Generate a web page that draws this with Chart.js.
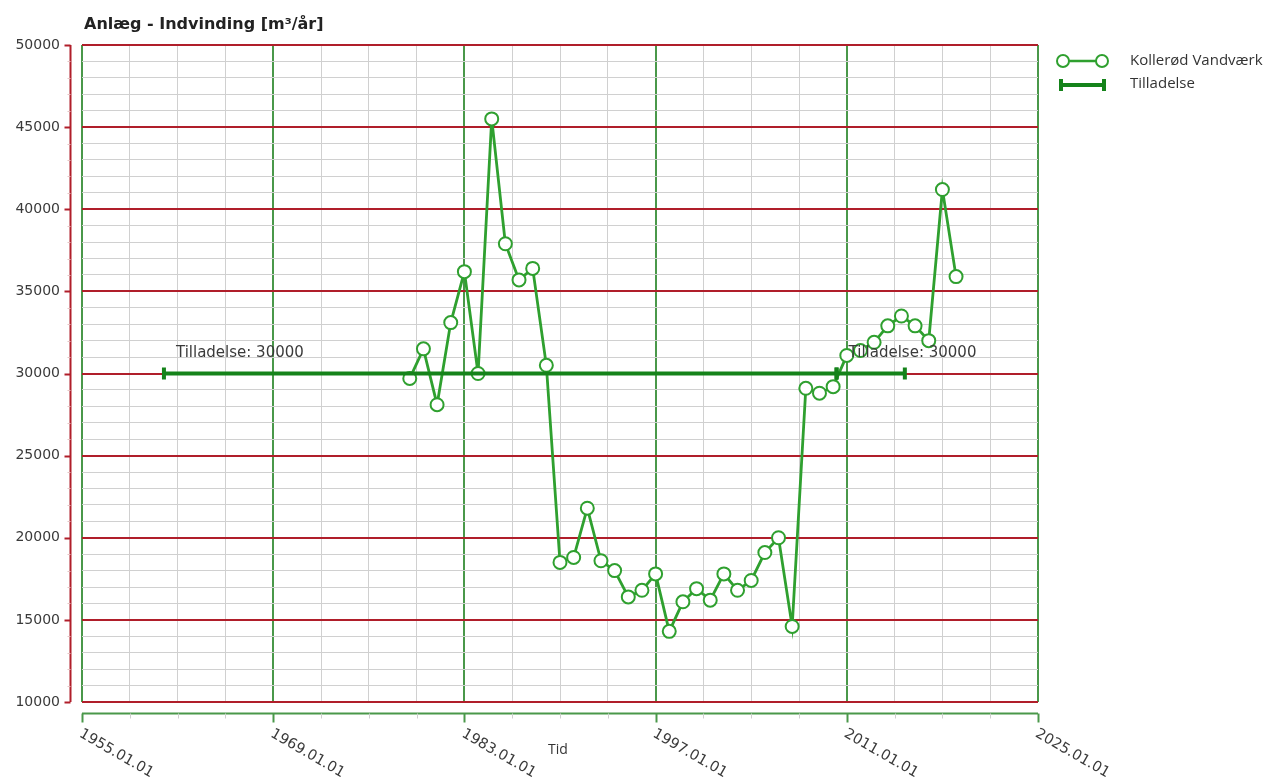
<!DOCTYPE html>
<html><head><meta charset="utf-8">
<script src="https://cdn.jsdelivr.net/npm/chart.js@4.4.1/dist/chart.umd.min.js"></script>
<style>html,body{margin:0;padding:0;background:#fff;}canvas{display:block;}</style>
</head><body>
<canvas id="c" width="1264" height="778"></canvas>
<script>
const chartTitle = 'Anlæg - Indvinding [m³/år]';
const xAxisTitle = 'Tid';
const seriesName = 'Kollerød Vandværk';
const permitName = 'Tilladelse';

const years  = [1979,1980,1981,1982,1983,1984,1985,1986,1987,1988,1989,1990,1991,1992,1993,1994,1995,1996,1997,1998,1999,2000,2001,2002,2003,2004,2005,2006,2007,2008,2009,2010,2011,2012,2013,2014,2015,2016,2017,2018,2019];
const values = [29700,31500,28100,33100,36200,30000,45500,37900,35700,36400,30500,18500,18800,21800,18600,18000,16400,16800,17800,14300,16100,16900,16200,17800,16800,17400,19100,20000,14600,29100,28800,29200,31100,31400,31900,32900,33500,32900,32000,41200,35900];

const permitStart  = [1961, 2010.25];
const permitEnd    = [2010.25, 2015.25];
const permitValues = [30000, 30000];

const xMin = 1955, xMax = 2025, xMajorStep = 14, xMinorStep = 3.5;
const yMin = 10000, yMax = 50000, yMajorStep = 5000, yMinorStep = 1000;
const xTickLabels = ['1955.01.01','1969.01.01','1983.01.01','1997.01.01','2011.01.01','2025.01.01'];

const C_DATA = '#2fa02f';
const C_PERMIT = '#15831a';
const C_RED = '#b01e2a';
const C_GREEN = '#4a984a';
const C_MINOR = '#d0d0d0';
const C_TEXT = '#3a3a3a';

function isMajorX(v){ const k=(v-xMin)/xMajorStep; return Math.abs(k-Math.round(k))<1e-6; }
function isMajorY(v){ return Math.abs(v % yMajorStep) < 1e-6; }

const decor = {
  id: 'decor',
  afterDraw(chart){
    const {ctx, chartArea:a, scales:{x, y}} = chart;
    ctx.save();
    // title
    ctx.font = 'bold 16px "DejaVu Sans"';
    ctx.fillStyle = '#222';
    ctx.textAlign = 'left'; ctx.textBaseline = 'middle';
    ctx.fillText(chartTitle, a.left + 2, 25);

    // y axis line (offset)
    const ax = a.left - 11.5;
    ctx.strokeStyle = C_RED; ctx.lineWidth = 2;
    ctx.beginPath(); ctx.moveTo(ax, y.getPixelForValue(yMax)); ctx.lineTo(ax, y.getPixelForValue(yMin)); ctx.stroke();
    for (let v = yMin; v <= yMax; v += yMinorStep){
      const py = Math.round(y.getPixelForValue(v)) + 0.5;
      const major = isMajorY(v);
      ctx.strokeStyle = major ? C_RED : '#e6c4c4';
      ctx.lineWidth = major ? 2 : 1;
      ctx.beginPath(); ctx.moveTo(ax - (major ? 6 : 3), py); ctx.lineTo(ax, py); ctx.stroke();
    }

    // x axis line (offset)
    const ay = a.bottom + 11.5;
    ctx.strokeStyle = C_GREEN; ctx.lineWidth = 2;
    ctx.beginPath(); ctx.moveTo(x.getPixelForValue(xMin), ay); ctx.lineTo(x.getPixelForValue(xMax), ay); ctx.stroke();
    for (let i = 0; i <= Math.round((xMax - xMin) / xMinorStep); i++){
      const v = xMin + i * xMinorStep;
      const px = Math.round(x.getPixelForValue(v)) + 0.5;
      const major = isMajorX(v);
      ctx.strokeStyle = major ? C_GREEN : '#cfcfcf';
      ctx.lineWidth = major ? 2 : 1;
      ctx.beginPath(); ctx.moveTo(px, ay); ctx.lineTo(px, ay + (major ? 9 : 5)); ctx.stroke();
    }
    // rotated x labels
    ctx.font = '14.5px "DejaVu Sans"';
    ctx.fillStyle = C_TEXT;
    ctx.textAlign = 'left'; ctx.textBaseline = 'top';
    xTickLabels.forEach((lab, i) => {
      const px = x.getPixelForValue(xMin + i * xMajorStep);
      ctx.save();
      ctx.translate(px + 2, ay + 13);
      ctx.rotate(30 * Math.PI / 180);
      ctx.fillText(lab, 0, 0);
      ctx.restore();
    });
    // axis title
    ctx.font = '14px "Open Sans"';
    ctx.textAlign = 'center'; ctx.textBaseline = 'middle';
    ctx.fillStyle = '#333';
    ctx.fillText(xAxisTitle, (a.left + a.right) / 2 - 2, 750);

    // permit labels
    ctx.font = '15px "DejaVu Sans"';
    ctx.textAlign = 'left'; ctx.textBaseline = 'middle';
    ctx.fillStyle = C_TEXT;
    permitStart.forEach((s, i) => {
      ctx.fillText(permitName + ': ' + permitValues[i], x.getPixelForValue(s) + 12, y.getPixelForValue(permitValues[i]) - 20);
    });

    // legend
    const lx = a.right + 20;
    ctx.strokeStyle = C_DATA; ctx.lineWidth = 2.5;
    ctx.beginPath(); ctx.moveTo(lx + 5, 61); ctx.lineTo(lx + 44, 61); ctx.stroke();
    ctx.lineWidth = 2; ctx.fillStyle = '#fff';
    [lx + 5, lx + 44].forEach(cx => { ctx.beginPath(); ctx.arc(cx, 61, 6, 0, Math.PI * 2); ctx.fill(); ctx.stroke(); });
    ctx.strokeStyle = C_PERMIT; ctx.lineWidth = 4;
    ctx.beginPath(); ctx.moveTo(lx + 3, 85); ctx.lineTo(lx + 46, 85); ctx.stroke();
    ctx.beginPath(); ctx.moveTo(lx + 3, 79); ctx.lineTo(lx + 3, 91); ctx.moveTo(lx + 46, 79); ctx.lineTo(lx + 46, 91); ctx.stroke();
    ctx.font = '15px "Open Sans"';
    ctx.fillStyle = '#333';
    ctx.textAlign = 'left'; ctx.textBaseline = 'middle';
    ctx.fillText(seriesName, lx + 72, 61);
    ctx.fillText(permitName, lx + 72, 84);
    ctx.restore();
  }
};

const datasets = [{
  label: seriesName,
  data: years.map((yr, i) => ({x: yr, y: values[i]})),
  borderColor: C_DATA,
  borderWidth: 2.8,
  pointRadius: 6.5,
  pointBorderWidth: 2,
  pointBorderColor: C_DATA,
  pointBackgroundColor: '#fff',
  tension: 0,
  order: 2
}];
permitStart.forEach((s, i) => {
  datasets.push({
    label: permitName,
    data: [{x: s, y: permitValues[i]}, {x: permitEnd[i], y: permitValues[i]}],
    borderColor: C_PERMIT,
    borderWidth: 4,
    pointStyle: 'line',
    rotation: 90,
    pointRadius: 6,
    pointBorderWidth: 4,
    pointBorderColor: C_PERMIT,
    order: 1
  });
});

new Chart(document.getElementById('c'), {
  type: 'line',
  data: { datasets },
  options: {
    responsive: false,
    animation: false,
    events: [],
    layout: { padding: { top: 45, right: 226, bottom: 0, left: 0 } },
    plugins: { legend: { display: false }, tooltip: { enabled: false }, title: { display: false } },
    scales: {
      x: {
        type: 'linear', min: xMin, max: xMax,
        ticks: { stepSize: xMinorStep, display: false, autoSkip: false },
        grid: {
          drawTicks: false,
          color: c => isMajorX(c.tick.value) ? C_GREEN : C_MINOR,
          lineWidth: c => isMajorX(c.tick.value) ? 2 : 1
        },
        border: { display: false },
        afterFit(s){ s.height = 76; }
      },
      y: {
        type: 'linear', min: yMin, max: yMax,
        ticks: {
          stepSize: yMinorStep, autoSkip: false, padding: 22,
          color: C_TEXT, font: { family: 'DejaVu Sans', size: 14 },
          callback: v => isMajorY(v) ? String(v) : ''
        },
        grid: {
          drawTicks: false,
          color: c => isMajorY(c.tick.value) ? C_RED : C_MINOR,
          lineWidth: c => isMajorY(c.tick.value) ? 2 : 1
        },
        border: { display: false },
        afterFit(s){ s.width = 82; }
      }
    }
  },
  plugins: [decor]
});
</script>
</body></html>
